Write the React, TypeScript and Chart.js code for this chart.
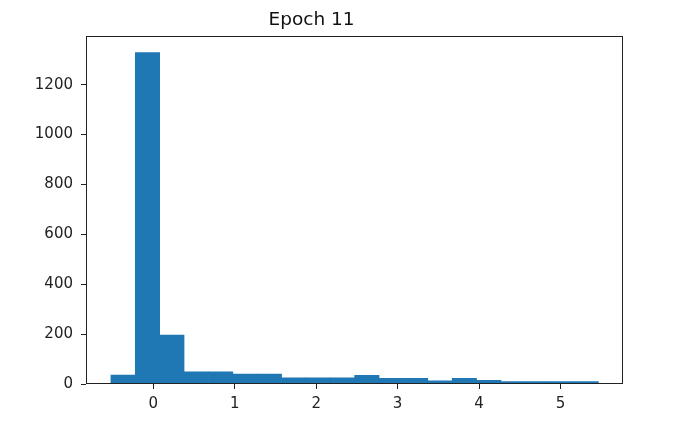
import React, { useEffect, useRef } from "react";
import { Chart, registerables } from "chart.js";

Chart.register(...registerables);

const title = "Epoch 11";
const binEdges = [
  -0.52, -0.2208, 0.0785, 0.3778, 0.677, 0.9763, 1.2755, 1.5748, 1.874, 2.1733,
  2.4725, 2.7718, 3.071, 3.3703, 3.6695, 3.9688, 4.268, 4.5673, 4.8665, 5.1658, 5.465,
];
const counts = [36, 1329, 196, 49, 49, 40, 40, 25, 25, 25, 35, 23, 23, 13, 23, 15, 10, 10, 10, 10];
const xTicks = [0, 1, 2, 3, 4, 5];
const yTicks = [0, 200, 400, 600, 800, 1000, 1200];
const xRange = [-0.826, 5.767];
const yRange = [0, 1397];

const framePlugin = {
  id: "frame",
  afterDraw(chart: any) {
    const { ctx, chartArea } = chart;
    const l = Math.round(chartArea.left) + 0.5;
    const t = Math.round(chartArea.top) + 0.5;
    const r = Math.round(chartArea.right) - 0.5;
    const b = Math.round(chartArea.bottom) - 0.5;
    ctx.save();
    ctx.strokeStyle = "#222";
    ctx.lineWidth = 1;
    ctx.strokeRect(l, t, r - l, b - t);
    ctx.restore();
  },
};

export default function App() {
  const ref = useRef<HTMLCanvasElement>(null);
  useEffect(() => {
    document.body.style.margin = "0";
    const data = counts.map((c, i) => ({ x: (binEdges[i] + binEdges[i + 1]) / 2, y: c }));
    const font = { family: "'DejaVu Sans', sans-serif", size: 15 };
    const chart = new Chart(ref.current!, {
      type: "bar",
      data: {
        datasets: [
          {
            data: data as any,
            backgroundColor: "#1f77b4",
            borderWidth: 0,
            barPercentage: 1,
            categoryPercentage: 1,
          },
        ],
      },
      options: {
        animation: false,
        responsive: false,
        layout: { padding: { left: 0, right: 57, top: 0, bottom: 0 } },
        plugins: {
          legend: { display: false },
          tooltip: { enabled: false },
          title: {
            display: true,
            text: title,
            color: "#111",
            font: { family: "'DejaVu Sans', sans-serif", size: 18.5, weight: "normal" },
            padding: { top: 9, bottom: 4.3 },
          },
        },
        scales: {
          x: {
            type: "linear",
            offset: false,
            min: xRange[0],
            max: xRange[1],
            afterBuildTicks: (s: any) => {
              s.ticks = xTicks.map((v) => ({ value: v }));
            },
            afterFit: (s: any) => {
              s.height = 42;
            },
            ticks: { color: "#222", font, padding: 6, maxRotation: 0, callback: (v: any) => String(v) },
            grid: { offset: false, drawOnChartArea: false, drawTicks: true, tickLength: 5, color: "#222" },
            border: { display: false },
          },
          y: {
            type: "linear",
            min: yRange[0],
            max: yRange[1],
            afterBuildTicks: (s: any) => {
              s.ticks = yTicks.map((v) => ({ value: v }));
            },
            afterFit: (s: any) => {
              s.width = 86;
            },
            ticks: { color: "#222", font, padding: 8, callback: (v: any) => String(v) },
            grid: { drawOnChartArea: false, drawTicks: true, tickLength: 5, color: "#222" },
            border: { display: false },
          },
        },
      },
      plugins: [framePlugin],
    });
    return () => chart.destroy();
  }, []);
  return (
    <div style={{ position: "absolute", left: 0, top: 0, width: 680, height: 426, background: "#fff" }}>
      <canvas ref={ref} width={680} height={426} />
    </div>
  );
}
